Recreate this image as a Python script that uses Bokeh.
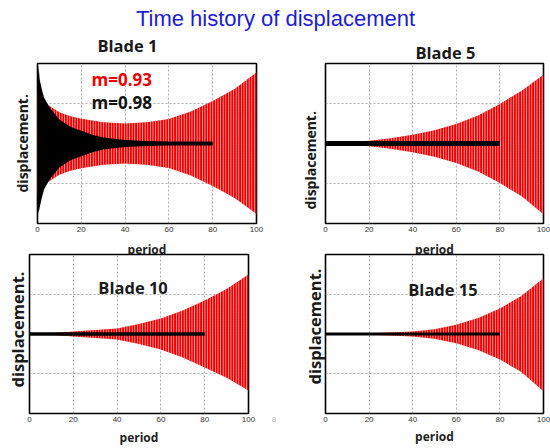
from bokeh.plotting import figure
from bokeh.models import Range1d, Label, FixedTicker, Title, Div
from bokeh.layouts import column, row
from bokeh.embed import file_html
from bokeh.resources import INLINE

# ---------------- data ----------------
period_ticks = [0, 20, 40, 60, 80, 100]
grid_ticks = [20, 40, 60, 80]
disp_ticks = [-1, 0, 1]

# Blade 1 : m=0.93 (red) and m=0.98 (black) envelopes
b1_red_x = [0, 3, 6, 10, 15, 20, 30, 40, 50, 60, 70, 80, 90, 100]
b1_red_up = [1.30, 1.05, 0.92, 0.78, 0.68, 0.62, 0.53, 0.50, 0.53, 0.61, 0.80, 1.06, 1.36, 1.78]
b1_red_lo = [-1.30, -1.05, -0.92, -0.78, -0.68, -0.62, -0.53, -0.50, -0.53, -0.61, -0.80, -1.06, -1.36, -1.76]
b1_blk_x = [0, 0.5, 1, 2, 3, 5, 7, 10, 15, 20, 25, 30, 40, 50, 60, 80]
b1_blk_up = [1.5, 1.95, 1.6, 1.35, 1.15, 0.95, 0.80, 0.60, 0.42, 0.32, 0.22, 0.15, 0.09, 0.06, 0.05, 0.05]
b1_blk_lo = [-1.5, -1.75, -1.6, -1.35, -1.15, -0.95, -0.80, -0.60, -0.42, -0.32, -0.22, -0.15, -0.09, -0.06, -0.05, -0.05]

# Blade 5
b5_red_x = [0, 10, 20, 30, 40, 50, 60, 70, 80, 90, 100]
b5_red_up = [0.0, 0.03, 0.07, 0.13, 0.22, 0.33, 0.49, 0.70, 0.99, 1.32, 1.72]
b5_red_lo = [0.0, -0.03, -0.07, -0.13, -0.22, -0.33, -0.49, -0.70, -0.99, -1.32, -1.77]
b5_blk_x = [0, 80]
b5_blk_up = [0.06, 0.06]
b5_blk_lo = [-0.06, -0.06]

# Blade 10
b10_red_x = [0, 10, 20, 30, 40, 50, 60, 70, 80, 90, 100]
b10_red_up = [0.0, 0.02, 0.06, 0.10, 0.14, 0.25, 0.39, 0.59, 0.84, 1.13, 1.50]
b10_red_lo = [0.0, -0.02, -0.06, -0.10, -0.14, -0.25, -0.39, -0.59, -0.84, -1.10, -1.42]
b10_blk_x = [0, 80]
b10_blk_up = [0.045, 0.045]
b10_blk_lo = [-0.045, -0.045]

# Blade 15
b15_red_x = [0, 10, 20, 30, 40, 50, 60, 70, 80, 90, 100]
b15_red_up = [0.0, 0.01, 0.02, 0.04, 0.06, 0.12, 0.23, 0.40, 0.64, 0.96, 1.40]
b15_red_lo = [0.0, -0.01, -0.02, -0.04, -0.06, -0.12, -0.23, -0.40, -0.64, -0.96, -1.44]
b15_blk_x = [0, 80]
b15_blk_up = [0.04, 0.04]
b15_blk_lo = [-0.04, -0.04]

BOLD = "Open Sans"
INK = "#1a1a1a"


def panel(w, h, bl, br, bt, bb, red, blk, label_standoff):
    p = figure(width=w, height=h, x_range=Range1d(0, 100), y_range=Range1d(-2, 2),
               output_backend="svg", toolbar_location=None, title=None,
               min_border_left=bl, min_border_right=br,
               min_border_top=bt, min_border_bottom=bb)
    p.background_fill_color = "white"
    p.border_fill_color = "white"
    p.border_fill_alpha = 0.0
    p.outline_line_color = "black"
    p.outline_line_width = 1.6
    p.outline_line_alpha = 1.0

    p.xaxis.ticker = FixedTicker(ticks=period_ticks)
    p.xaxis.major_label_text_font = "Liberation Sans"
    p.xaxis.major_label_text_font_size = "8px"
    p.xaxis.major_label_text_color = "#333333"
    p.xaxis.major_label_standoff = 3
    p.xaxis.major_tick_out = 0
    p.xaxis.major_tick_in = 0
    p.xaxis.minor_tick_line_color = None
    p.xaxis.axis_line_color = None
    p.xaxis.axis_label = "period"
    p.xaxis.axis_label_text_font = BOLD
    p.xaxis.axis_label_text_font_style = "bold"
    p.xaxis.axis_label_text_font_size = "12px"
    p.xaxis.axis_label_text_color = "#222222"
    p.xaxis.axis_label_standoff = label_standoff

    p.yaxis.visible = False

    p.xgrid.ticker = FixedTicker(ticks=grid_ticks)
    p.ygrid.ticker = FixedTicker(ticks=disp_ticks)
    for g in (p.xgrid, p.ygrid):
        g.grid_line_color = "#8a8a8a"
        g.grid_line_dash = "2 2"
        g.grid_line_width = 0.7

    rx, ru, rl = red
    p.varea(x=rx, y1=ru, y2=rl, fill_color="#ee0000",
            hatch_pattern="vertical_line", hatch_color="white",
            hatch_scale=2.6, hatch_weight=0.8, hatch_alpha=0.8)
    kx, ku, kl = blk
    p.varea(x=kx, y1=ku, y2=kl, fill_color="black")
    return p


def side_title(p, text, side, size, offset, standoff):
    p.add_layout(Title(text=text, align="left", offset=offset, standoff=standoff,
                       vertical_align="bottom", text_font=BOLD,
                       text_font_style="bold", text_font_size=size,
                       text_color=INK), side)


def inner_label(p, text, x, y, size, color=INK, align="center"):
    p.add_layout(Label(x=x, y=y, text=text, text_font=BOLD, text_font_style="bold",
                       text_font_size=size, text_color=color, text_align=align,
                       text_baseline="middle"))


# ---------------- main title ----------------
t = figure(width=550, height=32, x_range=Range1d(0, 1), y_range=Range1d(0, 32),
           output_backend="svg", toolbar_location=None, title=None, min_border=0)
t.axis.visible = False
t.grid.visible = False
t.outline_line_color = None
t.add_layout(Label(x=0.5, y=14, text="Time history of displacement",
                   text_font="Liberation Sans", text_font_size="22px",
                   text_color="#1c1cd8", text_align="center",
                   text_baseline="middle"))

# ---------------- panels ----------------
p1 = panel(280, 243, 37, 24, 41, 41, (b1_red_x, b1_red_up, b1_red_lo),
           (b1_blk_x, b1_blk_up, b1_blk_lo), 6)
side_title(p1, "Blade 1", "above", "16.5px", 60, 14)
side_title(p1, "displacement.", "left", "14px", 31, 12)
inner_label(p1, "m=0.93", 24.7, 1.6, "17px", color="#ee0000", align="left")
inner_label(p1, "m=0.98", 24.7, 1.03, "17px", color="#111111", align="left")

p2 = panel(270, 243, 45, 7, 42, 37, (b5_red_x, b5_red_up, b5_red_lo),
           (b5_blk_x, b5_blk_up, b5_blk_lo), 6)
side_title(p2, "Blade 5", "above", "16.5px", 90, 0)
side_title(p2, "displacement.", "left", "14px", 14, 11)

p3 = panel(280, 207, 29, 32, 10, 35, (b10_red_x, b10_red_up, b10_red_lo),
           (b10_blk_x, b10_blk_up, b10_blk_lo), 4)
inner_label(p3, "Blade 10", 47.3, 1.18, "16.5px")
side_title(p3, "displacement.", "left", "16.5px", 26, 2)

p4 = panel(270, 207, 45, 7, 13, 32, (b15_red_x, b15_red_up, b15_red_lo),
           (b15_blk_x, b15_blk_up, b15_blk_lo), 3)
inner_label(p4, "Blade 15", 53.9, 1.13, "16.5px")
side_title(p4, "displacement.", "left", "16.5px", 29, 0)

# small slide number between the lower pictures
page_no = Div(text="8", width=6, height=207, margin=(0, 3, 0, -9),
              styles={"font-size": "8px", "color": "#bbbbbb", "padding-top": "173px",
                      "font-family": "Liberation Sans", "text-align": "center"})

layout = column(t,
                row(p1, p2, spacing=0, margin=(-11, 0, 0, 0)),
                row(p3, page_no, p4, spacing=0, margin=(-23, 0, 0, 0)),
                spacing=0)

open("out.html", "w").write(file_html(layout, INLINE))
